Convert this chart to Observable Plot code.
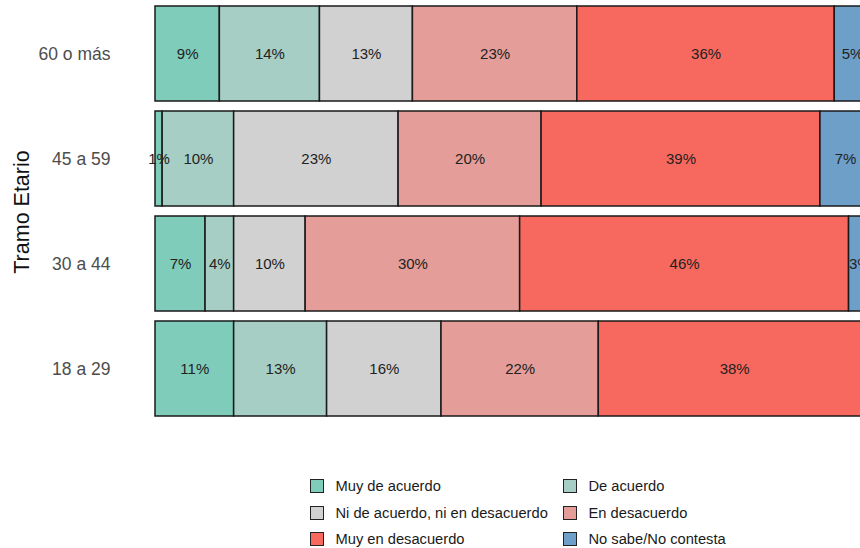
<!DOCTYPE html>
<html>
<head>
<meta charset="utf-8">
<script src="https://cdn.jsdelivr.net/npm/d3@7"></script>
<script src="https://cdn.jsdelivr.net/npm/@observablehq/plot@0.6"></script>
<style>
  html, body { margin: 0; padding: 0; background: #fff; }
  body { width: 860px; height: 548px; overflow: hidden; font-family: "Liberation Sans", Arial, sans-serif; }
  #legend { display: grid; grid-template-columns: 253px 280px; padding-left: 310px; margin-top: 42.75px; row-gap: 0; }
  .item { display: flex; align-items: center; height: 26.5px; font-size: 14.7px; color: #1a1a1a; white-space: nowrap; }
  .sw { width: 12px; height: 12px; border: 1.5px solid #222; margin-right: 11.5px; box-sizing: content-box; flex: none; }
</style>
</head>
<body>
<div id="chart"></div>
<div id="legend"></div>
<script>
const groups = ["60 o más", "45 a 59", "30 a 44", "18 a 29"];
const categories = ["Muy de acuerdo", "De acuerdo", "Ni de acuerdo, ni en desacuerdo", "En desacuerdo", "Muy en desacuerdo", "No sabe/No contesta"];
const colors = ["#7fccba", "#a6cec4", "#d1d1d1", "#e49d98", "#f7695f", "#6d9fc9"];
// values per category, in the order of groups
const muyDeAcuerdo     = [9, 1, 7, 11];
const deAcuerdo        = [14, 10, 4, 13];
const ni               = [13, 23, 10, 16];
const enDesacuerdo     = [23, 20, 30, 22];
const muyEnDesacuerdo  = [36, 39, 46, 38];
const noSabe           = [5, 7, 3, 0];
const series = [muyDeAcuerdo, deAcuerdo, ni, enDesacuerdo, muyEnDesacuerdo, noSabe];

const data = [];
categories.forEach((c, ci) => {
  groups.forEach((g, gi) => data.push({group: g, category: c, value: series[ci][gi]}));
});

const chart = Plot.plot({
  width: 860,
  height: 430,
  marginTop: 0,
  marginBottom: 7,
  marginLeft: 155,
  marginRight: 0,
  style: {fontFamily: '"Liberation Sans", Arial, sans-serif', background: "#fff"},
  x: {domain: [0, 100], range: [155, 870], axis: null},
  y: {domain: groups, paddingInner: 0.095, paddingOuter: 0.05, label: null},
  color: {domain: categories, range: colors},
  marks: [
    Plot.barX(data, Plot.stackX({x: "value", y: "group", z: "category", order: categories, fill: "category", stroke: "#1a1a1a", strokeWidth: 1.5})),
    Plot.text(data, Plot.stackX({x: "value", y: "group", z: "category", order: categories, text: d => d.value > 0 ? d.value + "%" : "", fontSize: 15, fill: "#222"})),
    Plot.axisY({tickSize: 0, tickPadding: 45, fontSize: 17.5, color: "#4d4d4d", label: null}),
    Plot.text(["Tramo Etario"], {frameAnchor: "left", dx: -133, rotate: -90, fontSize: 21.5, fill: "#111", textAnchor: "middle"})
  ]
});
document.getElementById("chart").appendChild(chart);

const legend = document.getElementById("legend");
categories.forEach((c, i) => {
  const item = document.createElement("div");
  item.className = "item";
  const sw = document.createElement("span");
  sw.className = "sw";
  sw.style.background = colors[i];
  const t = document.createElement("span");
  t.textContent = c;
  item.appendChild(sw);
  item.appendChild(t);
  legend.appendChild(item);
});
</script>
</body>
</html>
